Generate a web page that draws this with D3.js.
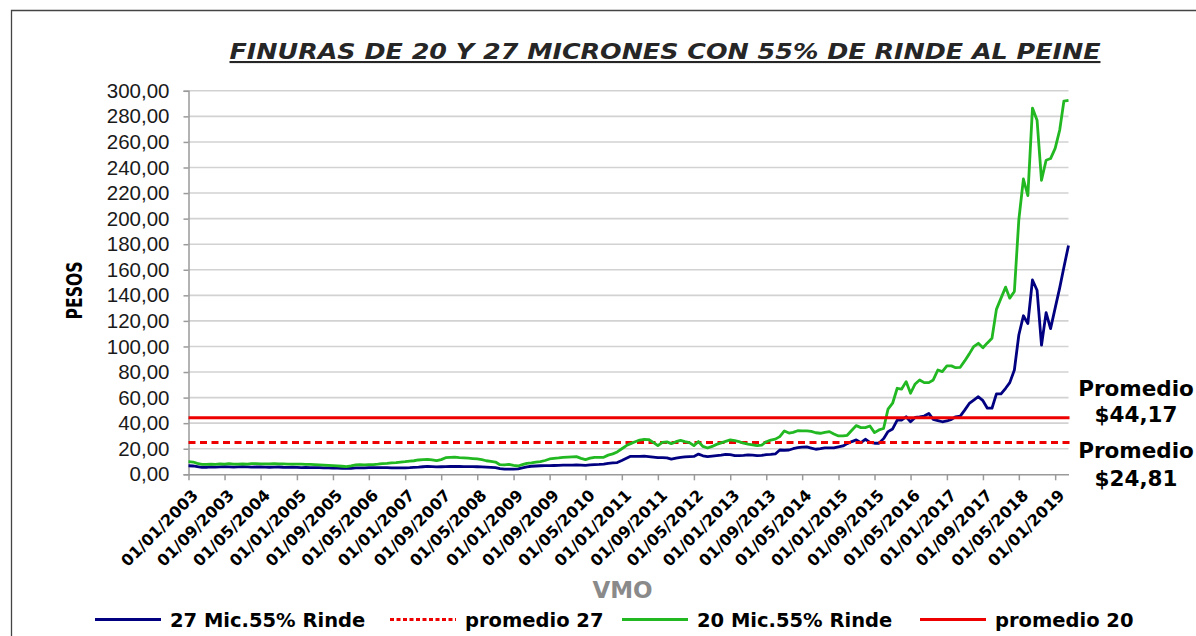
<!DOCTYPE html>
<html><head><meta charset="utf-8">
<script src="https://cdn.jsdelivr.net/npm/d3@7"></script>
<style>body{margin:0;background:#fff}svg{display:block}</style>
</head><body><svg id="c" width="1196" height="636"></svg>
<script>
// ---------------- DATA ----------------
const startMonth = "01/01/2003"; // first monthly observation
const mic27 = [
 6.7,6.5,6.0,5.5,5.5,5.8,5.6,5.8,6.0,5.8,5.6,5.8,
 5.9,5.8,5.6,5.7,5.8,5.6,5.5,5.6,5.7,5.5,5.4,5.5,
 5.4,5.3,5.4,5.3,5.2,5.2,5.1,5.0,4.9,4.8,4.7,4.6,
 4.7,5.0,5.1,5.1,5.2,5.2,5.3,5.2,5.2,5.1,5.0,5.0,
 5.1,5.2,5.4,5.6,5.9,6.2,6.0,5.8,5.9,6.0,6.2,6.1,
 6.1,6.0,6.0,6.0,5.9,5.8,5.6,5.4,5.2,4.4,4.1,4.1,
 4.1,4.3,5.0,5.8,6.3,6.5,6.7,6.8,6.8,6.9,7.0,7.1,
 7.1,7.2,7.3,7.2,7.0,7.3,7.5,7.7,8.0,8.6,8.9,9.2,
 10.8,12.5,14.1,14.0,14.1,14.2,13.8,13.4,13.0,13.0,12.8,11.8,
 12.6,13.2,13.6,13.8,14.0,15.8,14.5,13.8,14.2,14.6,15.0,15.6,
 15.4,14.6,14.6,14.8,15.2,15.0,14.6,14.8,15.4,15.6,15.9,19.0,
 18.8,19.0,20.0,20.8,21.2,21.4,20.5,19.6,20.0,20.6,20.6,20.6,
 21.4,22.2,24.0,25.6,26.9,24.8,27.4,25.0,24.3,24.3,27.9,33.4,
 35.5,42.4,42.4,45.0,41.1,44.5,45.0,45.6,47.6,43.0,42.0,41.1,
 41.7,43.0,45.0,45.5,50.2,55.4,58.0,60.7,57.6,51.7,51.7,62.9,
 62.9,67.3,71.7,81.6,109.0,124.0,118.0,152.0,144.0,101.0,126.5,114.0,
 130.0,146.0,162.0,179.0
];
const mic20 = [
 9.9,9.6,8.6,7.8,7.8,8.0,7.8,8.2,8.0,8.4,7.9,8.0,
 8.2,8.0,8.3,8.4,8.2,8.1,8.2,8.3,8.1,8.2,8.0,7.9,
 8.0,7.9,7.8,7.8,7.6,7.4,7.2,7.0,6.8,6.6,6.3,6.0,
 6.6,7.4,7.5,7.4,7.6,7.5,7.9,8.4,8.6,9.0,9.2,9.6,
 9.9,10.3,10.6,11.2,11.5,11.7,11.2,10.7,11.5,13.0,13.3,13.4,
 13.0,12.8,12.6,12.3,12.0,11.4,10.6,10.1,9.6,7.5,7.3,7.8,
 7.0,6.5,7.5,8.6,9.0,9.6,9.9,10.8,12.0,12.4,12.8,13.3,
 13.5,13.7,13.8,12.5,11.5,12.6,13.3,13.3,13.3,15.0,16.0,17.5,
 20.0,22.5,24.0,25.5,26.8,27.4,27.2,25.0,22.4,25.0,25.4,24.0,
 25.5,26.6,25.6,24.8,22.4,25.6,21.8,20.6,21.8,23.4,24.6,25.8,
 26.9,26.3,25.6,24.3,23.6,23.0,22.4,22.8,25.5,26.8,27.5,29.5,
 33.9,32.3,32.8,34.1,34.0,33.9,33.6,32.5,32.1,32.8,33.4,31.5,
 30.0,30.0,30.5,34.5,38.1,36.5,36.5,37.8,32.6,34.7,35.8,51.0,
 55.6,67.3,66.6,72.5,63.4,70.7,73.8,71.7,71.7,73.8,81.6,80.3,
 84.8,84.8,83.4,83.7,88.7,94.2,99.9,102.5,99.0,102.8,106.4,129.0,
 137.8,146.4,137.8,143.0,199.0,231.0,218.0,286.5,277.0,230.0,245.7,247.0,
 255.0,269.5,292.0,292.5
];
const promedio27 = 24.81;
const promedio20 = 44.17;
const yTickValues = [0,20,40,60,80,100,120,140,160,180,200,220,240,260,280,300];
const xTickLabels = ["01/01/2003","01/09/2003","01/05/2004","01/01/2005","01/09/2005","01/05/2006",
 "01/01/2007","01/09/2007","01/05/2008","01/01/2009","01/09/2009","01/05/2010","01/01/2011",
 "01/09/2011","01/05/2012","01/01/2013","01/09/2013","01/05/2014","01/01/2015","01/09/2015",
 "01/05/2016","01/01/2017","01/09/2017","01/05/2018","01/01/2019"];
const legendLabels = ["27 Mic.55% Rinde","promedio 27","20 Mic.55% Rinde","promedio 20"];
const titleText = "FINURAS DE 20 Y 27 MICRONES CON 55% DE RINDE AL PEINE";
const yTitle = "PESOS";
const xTitle = "VMO";
const noteLines = ["Promedio","$44,17","Promedio","$24,81"];

// ---------------- CHART ----------------
const parse = d3.timeParse("%d/%m/%Y");
const t0 = parse(startMonth);
const dates = d3.timeMonth.range(t0, d3.timeMonth.offset(t0, mic27.length));
const svg = d3.select("#c");
svg.append("rect").attr("width",1196).attr("height",636).attr("fill","#fff");
svg.append("path").attr("d","M11.5,640V10.5H1200").attr("fill","none").attr("stroke","#444").attr("stroke-width",1.3);

const L=188.5, R=1068.5, T=90.8, B=474.3;
const x = d3.scaleTime().domain([t0, dates[dates.length-1]]).range([L,R]);
const y = d3.scaleLinear().domain([0,300]).range([B,T]);
const fmt = v => d3.format(".2f")(v).replace(".",",");

// gridlines
svg.append("g").selectAll("line").data(yTickValues.filter(v=>v>0)).join("line")
  .attr("x1",L).attr("x2",R).attr("y1",d=>y(d)).attr("y2",d=>y(d))
  .attr("stroke","#d2d2d2").attr("stroke-width",1.6);

// y axis
const ya = svg.append("g").attr("transform",`translate(${L},0)`)
  .call(d3.axisLeft(y).tickValues(yTickValues).tickFormat(fmt).tickSize(5).tickPadding(14));
ya.select(".domain").attr("stroke","#9a9a9a").attr("stroke-width",1.5);
ya.selectAll(".tick line").attr("stroke","#9a9a9a").attr("stroke-width",1.5);
ya.selectAll(".tick text").attr("font-family","'Liberation Sans',Arial,sans-serif")
  .attr("font-size",20.5).attr("fill","#1a1a1a");

// x axis
const xTicks = xTickLabels.map(parse);
const xa = svg.append("g").attr("transform",`translate(0,${B})`)
  .call(d3.axisBottom(x).tickValues(xTicks).tickFormat(d3.timeFormat("%d/%m/%Y")).tickSize(6).tickSizeOuter(0));
xa.select(".domain").attr("stroke","#9a9a9a").attr("stroke-width",1.5);
xa.selectAll(".tick line").attr("stroke","#9a9a9a").attr("stroke-width",1.5);
xa.selectAll(".tick text").attr("font-family","'DejaVu Sans',Verdana,sans-serif").attr("font-weight","bold")
  .attr("font-size",16).attr("fill","#000").attr("text-anchor","end")
  .attr("dy",null).attr("y",null).attr("transform","translate(10,22) rotate(-45)");

// series
const line = d3.line().x((d,i)=>x(dates[i])).y(d=>y(d));
svg.append("path").datum(mic27).attr("d",line).attr("fill","none").attr("stroke","#000080").attr("stroke-width",2.8).attr("stroke-linejoin","round");
svg.append("line").attr("x1",L).attr("x2",R+1).attr("y1",y(promedio27)).attr("y2",y(promedio27))
  .attr("stroke","#ee0000").attr("stroke-width",3).attr("stroke-dasharray","7,4.5");
svg.append("path").datum(mic20).attr("d",line).attr("fill","none").attr("stroke","#22b822").attr("stroke-width",2.8).attr("stroke-linejoin","round");
svg.append("line").attr("x1",L).attr("x2",R+1).attr("y1",y(promedio20)).attr("y2",y(promedio20))
  .attr("stroke","#ee0000").attr("stroke-width",3);

// title
svg.append("text").attr("x",665).attr("y",59).attr("text-anchor","middle")
  .attr("font-family","'DejaVu Sans',Verdana,sans-serif").attr("font-weight","bold").attr("font-style","italic")
  .attr("font-size",21).attr("fill","#262626").attr("text-decoration","underline")
  .attr("textLength",871).attr("lengthAdjust","spacingAndGlyphs").text(titleText);

// axis titles
svg.append("text").attr("transform","translate(82,290.5) rotate(-90)").attr("text-anchor","middle")
  .attr("font-family","'DejaVu Sans',Verdana,sans-serif").attr("font-weight","bold").attr("font-size",21)
  .attr("textLength",58).attr("lengthAdjust","spacingAndGlyphs").text(yTitle);
svg.append("text").attr("x",622.5).attr("y",598).attr("text-anchor","middle")
  .attr("font-family","'DejaVu Sans',Verdana,sans-serif").attr("font-weight","bold").attr("font-size",23)
  .attr("fill","#8a8a8a").text(xTitle);

// notes
const noteY = [396,422,458,486];
svg.append("g").selectAll("text").data(noteLines).join("text")
  .attr("x",1136).attr("y",(d,i)=>noteY[i]).attr("text-anchor","middle")
  .attr("font-family","'DejaVu Sans',Verdana,sans-serif").attr("font-weight","bold").attr("font-size",21.5)
  .attr("fill","#000").text(d=>d);

// legend
const legX = [95,390,622,920];
const legStyle = [
  {c:"#000080",dash:null},{c:"#ee0000",dash:"4,2.5"},{c:"#22b822",dash:null},{c:"#ee0000",dash:null}];
const lg = svg.append("g").selectAll("g").data(legendLabels).join("g")
  .attr("transform",(d,i)=>`translate(${legX[i]},619.5)`);
lg.append("line").attr("x1",0).attr("x2",66).attr("stroke",(d,i)=>legStyle[i].c).attr("stroke-width",3)
  .attr("stroke-dasharray",(d,i)=>legStyle[i].dash);
lg.append("text").attr("x",75).attr("y",7.5).attr("font-family","'DejaVu Sans',Verdana,sans-serif")
  .attr("font-weight","bold").attr("font-size",19.5).attr("fill","#000").text(d=>d);
</script></body></html>
